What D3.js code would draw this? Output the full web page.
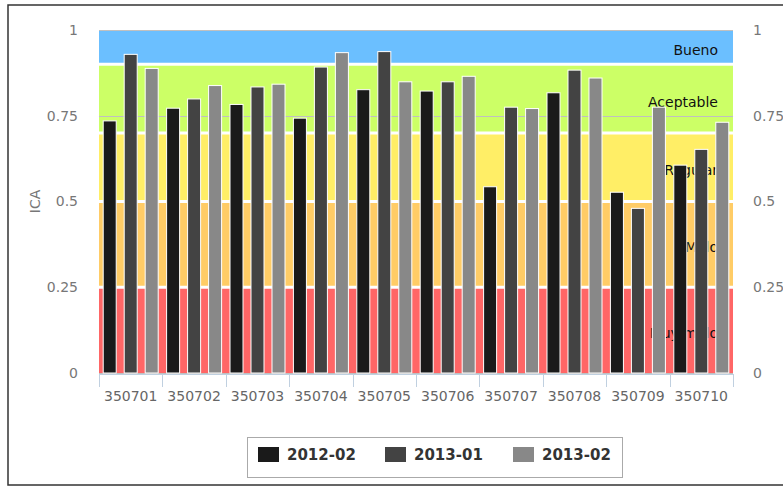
<!DOCTYPE html>
<html lang="en">
<head>
<meta charset="utf-8">
<title>ICA</title>
<script src="https://cdn.jsdelivr.net/npm/d3@7"></script>
<style>
  body { margin: 0; background: #fff; }
  text { font-family: "DejaVu Sans", sans-serif; }
</style>
</head>
<body>
<script>
// data
var categories = ["350701", "350702", "350703", "350704", "350705", "350706", "350707", "350708", "350709", "350710"];
var seriesNames = ["2012-02", "2013-01", "2013-02"];
var s2012_02 = [0.735, 0.772, 0.783, 0.743, 0.826, 0.822, 0.543, 0.817, 0.527, 0.606];
var s2013_01 = [0.929, 0.799, 0.834, 0.892, 0.937, 0.849, 0.775, 0.883, 0.480, 0.652];
var s2013_02 = [0.888, 0.838, 0.842, 0.934, 0.849, 0.865, 0.771, 0.860, 0.775, 0.731];
var seriesColors = ["#1a1a1a", "#434343", "#888888"];
var yTicks = [0, 0.25, 0.5, 0.75, 1];
var bandNames = ["Bueno", "Aceptable", "Regular", "Malo", "Muy malo"];
var bandFrom = [0.9, 0.7, 0.5, 0.25, 0];
var bandTo = [1, 0.9, 0.7, 0.5, 0.25];
var bandColors = ["#6bbfff", "#ccff66", "#ffee66", "#ffcc66", "#ff6666"];

var series = [s2012_02, s2013_01, s2013_02];

var w = 783, h = 487;
var plotLeft = 99, plotRight = 733, plotTop = 30, plotBottom = 373;

var svg = d3.select("body").append("svg")
    .attr("width", w)
    .attr("height", h);

// outer frame
svg.append("rect")
    .attr("x", 8).attr("y", 5)
    .attr("width", 790).attr("height", 480)
    .attr("fill", "none")
    .attr("stroke", "#333")
    .attr("stroke-width", 1.5);

var y = d3.scaleLinear().domain([0, 1]).range([plotBottom, plotTop]);
var x0 = d3.scaleBand().domain(categories).range([plotLeft, plotRight]).padding(0);
var x1 = d3.scaleBand().domain(d3.range(series.length))
    .range([0, x0.bandwidth()])
    .paddingInner(0.38).paddingOuter(0.2);

// plot bands
svg.selectAll("rect.band")
    .data(bandNames)
    .enter().append("rect")
    .attr("class", "band")
    .attr("x", plotLeft)
    .attr("width", plotRight - plotLeft)
    .attr("y", function(d, i) { return y(bandTo[i]); })
    .attr("height", function(d, i) { return y(bandFrom[i]) - y(bandTo[i]); })
    .attr("fill", function(d, i) { return bandColors[i]; });

// grid lines
svg.selectAll("line.grid")
    .data(yTicks)
    .enter().append("line")
    .attr("class", "grid")
    .attr("x1", plotLeft).attr("x2", plotRight)
    .attr("y1", function(d) { return Math.round(y(d)) + 0.5; })
    .attr("y2", function(d) { return Math.round(y(d)) + 0.5; })
    .attr("stroke", "#c0c0c0");

// white band separators
svg.selectAll("line.sep")
    .data(bandFrom.filter(function(d) { return d > 0; }))
    .enter().append("line")
    .attr("class", "sep")
    .attr("x1", plotLeft).attr("x2", plotRight)
    .attr("y1", function(d) { return y(d); })
    .attr("y2", function(d) { return y(d); })
    .attr("stroke", "#fff")
    .attr("stroke-width", 3);

// band labels
svg.selectAll("text.bandlabel")
    .data(bandNames)
    .enter().append("text")
    .attr("class", "bandlabel")
    .attr("x", 718)
    .attr("y", function(d, i) { return y((bandFrom[i] + bandTo[i]) / 2) + 3; })
    .attr("dy", "0.35em")
    .attr("text-anchor", "end")
    .attr("font-size", 14)
    .attr("fill", "#111")
    .text(function(d) { return d; });

// bars
var groups = svg.selectAll("g.cat")
    .data(categories)
    .enter().append("g")
    .attr("class", "cat")
    .attr("transform", function(d) { return "translate(" + x0(d) + ",0)"; });

groups.selectAll("rect")
    .data(function(d, ci) {
        return series.map(function(s, si) { return { si: si, v: s[ci] }; });
    })
    .enter().append("rect")
    .attr("x", function(d) { return x1(d.si); })
    .attr("width", x1.bandwidth())
    .attr("y", function(d) { return y(d.v); })
    .attr("height", function(d) { return y(0) - y(d.v); })
    .attr("fill", function(d) { return seriesColors[d.si]; })
    .attr("stroke", "#fff")
    .attr("stroke-width", 1);

// x axis
var xAxis = svg.append("g")
    .attr("transform", "translate(0," + (plotBottom + 1) + ")");
xAxis.append("line")
    .attr("x1", plotLeft).attr("x2", plotRight)
    .attr("y1", 0.5).attr("y2", 0.5)
    .attr("stroke", "#c0d0e0");
xAxis.selectAll("line.tick")
    .data(categories.concat(["end"]))
    .enter().append("line")
    .attr("class", "tick")
    .attr("x1", function(d, i) { return Math.round(i < categories.length ? x0(d) : plotRight) + 0.5; })
    .attr("x2", function(d, i) { return Math.round(i < categories.length ? x0(d) : plotRight) + 0.5; })
    .attr("y1", 0).attr("y2", 13)
    .attr("stroke", "#c0d0e0");
xAxis.selectAll("text")
    .data(categories)
    .enter().append("text")
    .attr("x", function(d) { return x0(d) + x0.bandwidth() / 2; })
    .attr("y", 27)
    .attr("text-anchor", "middle")
    .attr("font-size", 14)
    .attr("fill", "#666")
    .text(function(d) { return d; });

// y axis labels (left and right)
svg.selectAll("text.yl")
    .data(yTicks)
    .enter().append("text")
    .attr("class", "yl")
    .attr("x", 78)
    .attr("y", function(d) { return y(d); })
    .attr("dy", "0.35em")
    .attr("text-anchor", "end")
    .attr("font-size", 14)
    .attr("fill", "#777")
    .text(function(d) { return d; });

svg.selectAll("text.yr")
    .data(yTicks)
    .enter().append("text")
    .attr("class", "yr")
    .attr("x", 753)
    .attr("y", function(d) { return y(d); })
    .attr("dy", "0.35em")
    .attr("text-anchor", "start")
    .attr("font-size", 14)
    .attr("fill", "#777")
    .text(function(d) { return d; });

svg.append("text")
    .attr("transform", "translate(35," + y(0.5) + ") rotate(-90)")
    .attr("text-anchor", "middle")
    .attr("dy", "0.35em")
    .attr("font-size", 14)
    .attr("fill", "#777")
    .text("ICA");

// legend
var legend = svg.append("g");
legend.append("rect")
    .attr("x", 247.5).attr("y", 437.5)
    .attr("width", 375).attr("height", 40)
    .attr("fill", "#fff")
    .attr("stroke", "#aaa");

var legendX = [258, 385, 513];
var items = legend.selectAll("g.item")
    .data(seriesNames)
    .enter().append("g")
    .attr("class", "item")
    .attr("transform", function(d, i) { return "translate(" + legendX[i] + ",447)"; });
items.append("rect")
    .attr("width", 21).attr("height", 15)
    .attr("fill", function(d, i) { return seriesColors[i]; });
items.append("text")
    .attr("x", 29)
    .attr("y", 8)
    .attr("dy", "0.35em")
    .attr("font-size", 15)
    .attr("font-weight", "bold")
    .attr("fill", "#333")
    .text(function(d) { return d; });
</script>
</body>
</html>
